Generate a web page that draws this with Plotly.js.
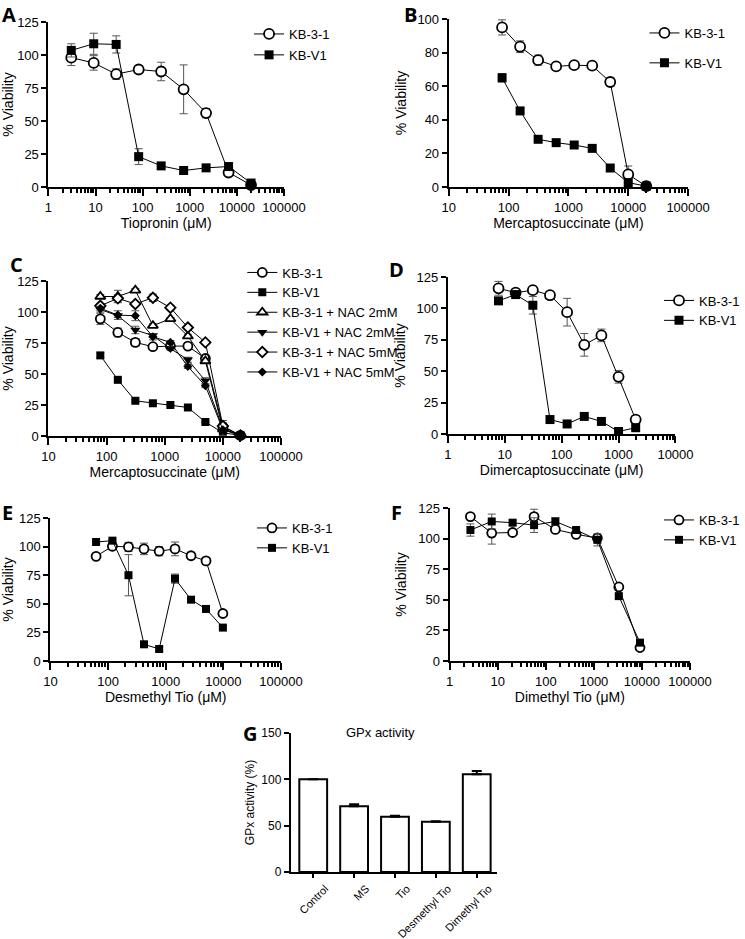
<!DOCTYPE html>
<html><head><meta charset="utf-8">
<script src="https://cdn.plot.ly/plotly-3.0.1.min.js"></script>
<style>html,body{margin:0;padding:0;background:#fff}</style>
</head><body><div id="chart" style="width:745px;height:939px"></div>
<script>
// ---------- DATA ----------
// Panel A: Tiopronin
const concTio = [3.05, 9.14, 27.4, 82.3, 247, 741, 2222, 6667, 20000];
const A_kb31 = [98, 94, 85.5, 89, 87.5, 74, 56, 11, 1.5];
const A_kb31_err = [6, 5.5, 4, 1.5, 7, 18.5, 3.5, 1, 0];
const A_kbv1 = [103.5, 108.5, 108, 23, 16, 12.5, 14.5, 15.5, 3];
const A_kbv1_err = [5, 8, 6.5, 6, 1.5, 1, 1, 1, 0.5];
// Panel B: Mercaptosuccinate
const concMS = [78, 156, 312, 625, 1250, 2500, 5000, 10000, 20000];
const B_kb31 = [95, 83.5, 75.5, 71.8, 72.5, 72.2, 62.5, 7.5, 0.5];
const B_kb31_err = [4.5, 3.5, 3, 1, 1.5, 1.5, 2.5, 5, 0];
const B_kbv1 = [65, 45.3, 28.4, 26.4, 25, 23, 11.3, 2.6, 0.5];
const B_kbv1_err = [2.5, 1, 1, 1, 0.5, 0.5, 0.5, 0.5, 0];
// Panel C: Mercaptosuccinate + NAC
const C_kb31 = [94.5, 83.5, 75.5, 72, 72.5, 72.5, 62.5, 7.5, 0.5];
const C_kb31_err = [4.5, 3.5, 3, 1, 1.5, 1.5, 2.5, 5, 0];
const C_kbv1 = [65, 45.3, 28.4, 26.4, 25, 23, 11.3, 2.6, 0.5];
const C_kbv1_err = [2, 1, 1, 1, 0.5, 0.5, 0.5, 0.5, 0];
const C_nac2_31 = [112.5, 112.5, 117.5, 89, 94.5, 80.5, 60.5, 5.5, 0.5];
const C_nac2_31_err = [1.5, 5, 1.5, 1.5, 1, 1.5, 1.5, 5, 0];
const C_nac2_v1 = [102, 97, 85.5, 81, 70.5, 61.5, 44.5, 6, 0.5];
const C_nac2_v1_err = [2, 1.5, 3, 1.5, 1, 2, 2.5, 1, 0];
const C_nac5_31 = [105, 111, 106.5, 111.5, 103.5, 87.5, 75.5, 8, 0.5];
const C_nac5_31_err = [1.5, 3, 1.5, 3, 2, 1.5, 1.5, 1, 0];
const C_nac5_v1 = [103, 97.5, 97, 80, 75.5, 56, 40.5, 5, 0.5];
const C_nac5_v1_err = [1.5, 3.5, 4, 2.5, 1.5, 1.5, 1.5, 1, 0];
// Panel D: Dimercaptosuccinate
const concDMS = [7.8, 15.6, 31.25, 62.5, 125, 250, 500, 1000, 2000];
const D_kb31 = [116, 112.5, 114.5, 110.5, 97, 71, 78.5, 45.5, 11.5];
const D_kb31_err = [5.5, 1, 1, 3, 11, 9, 5, 5, 3];
const D_kbv1 = [106, 111, 102.5, 11.5, 8, 14, 10, 2, 5];
const D_kbv1_err = [2, 1.5, 7, 1, 1, 1, 1, 0.5, 1];
// Panel E: Desmethyl Tio
const concDesm = [62, 119, 226, 420, 770, 1450, 2750, 5000, 9800];
const E_kb31 = [91.5, 100.3, 99.7, 98, 96, 98, 92, 87.5, 41.5];
const E_kb31_err = [0, 3, 4, 5, 4, 6, 3, 3, 0];
const E_kbv1 = [104, 105.2, 75, 14.6, 10.5, 72, 53.6, 45.5, 29.2];
const E_kbv1_err = [1, 1, 18, 1, 2, 4, 1, 1, 1];
// Panel F: Dimethyl Tio
const concDim = [2.7, 7.5, 20.4, 57, 158, 427, 1180, 3300, 9100];
const F_kb31 = [118, 104.5, 105, 118, 107.5, 103.5, 100.5, 60.5, 11];
const F_kb31_err = [2, 9, 2, 6, 2, 2, 2, 2, 1];
const F_kbv1 = [107, 114, 113, 111, 114, 107, 99, 53, 15];
const F_kbv1_err = [5, 6, 2, 6, 3, 2, 5, 2, 1];
// Panel G: GPx activity
const gCats = ["Control", "MS", "Tio", "Desmethyl Tio", "Dimethyl Tio"];
const gVals = [100, 71, 59.6, 54.3, 105.5];
const gErr = [0, 2.2, 1, 0.5, 3.5];
const gErrMinus = [0, 0, 0, 0, 0];

// ---------- LAYOUT HELPERS ----------
const W = 745, H = 939;
const FONT = "Liberation Sans, Arial, sans-serif";
const TICK = '#000';
const fx = v => v / W;
const fy = v => 1 - v / H;

function minorVals(lo, hi) {
  const v = [];
  for (let e = lo; e < hi; e++) for (let m = 2; m <= 9; m++) v.push(m * Math.pow(10, e));
  return v;
}

function logAxis(l, r, anchor, lo, hi, title) {
  return {
    type: 'log', domain: [fx(l), fx(r)], anchor: anchor, range: [lo, hi],
    tickmode: 'linear', tick0: 0, dtick: 1, tickformat: 'd',
    ticks: 'outside', ticklen: 7, tickwidth: 2, tickcolor: TICK,
    minor: {tickmode: 'array', tickvals: minorVals(lo, hi), ticks: 'outside', ticklen: 4,
            tickwidth: 2, tickcolor: TICK, showgrid: false},
    showline: true, linewidth: 2, linecolor: '#000', showgrid: false, zeroline: false,
    tickfont: {family: FONT, size: 13, color: '#000'},
    title: {text: title, font: {family: FONT, size: 14, color: '#000'}, standoff: 5}
  };
}
function linAxis(top, bot, anchor, hi, dt, title, tsize, standoff) {
  return {
    domain: [fy(bot), fy(top)], anchor: anchor, range: [0, hi], dtick: dt, tick0: 0,
    ticks: 'outside', ticklen: 5, tickwidth: 2, tickcolor: TICK,
    showline: true, linewidth: 2, linecolor: '#000', showgrid: false, zeroline: false,
    tickfont: {family: FONT, size: tsize ? 12 : 13, color: '#000'},
    title: {text: title, font: {family: FONT, size: tsize || 14, color: '#000'},
            standoff: standoff === undefined ? 8 : standoff}
  };
}

const OPEN = (sym, size) => ({symbol: sym, size: size, color: '#fff', line: {color: '#000', width: 1.8}});
const FILL = (sym, size) => ({symbol: sym, size: size, color: '#000', line: {color: '#000', width: 0}});

function series(x, y, err, name, marker, xa, ya, lg) {
  return {
    type: 'scatter', mode: 'lines+markers', x: x, y: y, name: name,
    xaxis: xa, yaxis: ya, legend: lg, legendgroup: lg + name, cliponaxis: false,
    line: {color: '#000', width: 1},
    marker: marker,
    error_y: {type: 'data', array: err, visible: true, color: '#555', thickness: 1, width: 4}
  };
}

const traces = [
  series(concTio, A_kb31, A_kb31_err, 'KB-3-1', OPEN('circle', 10), 'x', 'y', 'legend'),
  series(concTio, A_kbv1, A_kbv1_err, 'KB-V1', FILL('square', 9), 'x', 'y', 'legend'),
  series(concMS, B_kb31, B_kb31_err, 'KB-3-1', OPEN('circle', 10), 'x2', 'y2', 'legend2'),
  series(concMS, B_kbv1, B_kbv1_err, 'KB-V1', FILL('square', 9), 'x2', 'y2', 'legend2'),
  series(concMS, C_kb31, C_kb31_err, 'KB-3-1', OPEN('circle', 9), 'x3', 'y3', 'legend3'),
  series(concMS, C_kbv1, C_kbv1_err, 'KB-V1', FILL('square', 8), 'x3', 'y3', 'legend3'),
  series(concMS, C_nac2_31, C_nac2_31_err, 'KB-3-1 + NAC 2mM', OPEN('triangle-up', 9), 'x3', 'y3', 'legend3'),
  series(concMS, C_nac2_v1, C_nac2_v1_err, 'KB-V1 + NAC 2mM', FILL('triangle-down', 9), 'x3', 'y3', 'legend3'),
  series(concMS, C_nac5_31, C_nac5_31_err, 'KB-3-1 + NAC 5mM', OPEN('diamond', 8), 'x3', 'y3', 'legend3'),
  series(concMS, C_nac5_v1, C_nac5_v1_err, 'KB-V1 + NAC 5mM', FILL('diamond', 7), 'x3', 'y3', 'legend3'),
  series(concDMS, D_kb31, D_kb31_err, 'KB-3-1', OPEN('circle', 10), 'x4', 'y4', 'legend4'),
  series(concDMS, D_kbv1, D_kbv1_err, 'KB-V1', FILL('square', 9), 'x4', 'y4', 'legend4'),
  series(concDesm, E_kb31, E_kb31_err, 'KB-3-1', OPEN('circle', 9), 'x5', 'y5', 'legend5'),
  series(concDesm, E_kbv1, E_kbv1_err, 'KB-V1', FILL('square', 8), 'x5', 'y5', 'legend5'),
  series(concDim, F_kb31, F_kb31_err, 'KB-3-1', OPEN('circle', 9), 'x6', 'y6', 'legend6'),
  series(concDim, F_kbv1, F_kbv1_err, 'KB-V1', FILL('square', 8), 'x6', 'y6', 'legend6'),
  {
    type: 'bar', x: gCats, y: gVals, xaxis: 'x7', yaxis: 'y7', showlegend: false,
    marker: {color: '#fff', line: {color: '#000', width: 2}},
    error_y: {type: 'data', array: gErr, arrayminus: gErrMinus, symmetric: false, color: '#000', thickness: 2, width: 5}
  }
];

function legendAt(x, y, fs, gap) {
  return {x: fx(x), y: fy(y), xanchor: 'left', yanchor: 'top', bgcolor: 'rgba(0,0,0,0)',
    font: {family: FONT, size: fs, color: '#000'}, itemwidth: 30,
    traceorder: 'grouped', tracegroupgap: gap};
}

function letter(t, x, y) {
  return {text: '<b>' + t + '</b>', x: fx(x), y: fy(y), xref: 'paper', yref: 'paper',
    xanchor: 'center', yanchor: 'middle', showarrow: false,
    font: {family: 'Open Sans, DejaVu Sans, sans-serif', size: 20, color: '#000'}};
}

const layout = {
  width: W, height: H, margin: {l: 0, r: 0, t: 0, b: 0},
  paper_bgcolor: '#fff', plot_bgcolor: 'rgba(0,0,0,0)',
  font: {family: FONT, color: '#000'},
  showlegend: true,
  xaxis: logAxis(50, 293, 'y', 0, 5, 'Tiopronin (μM)'),
  yaxis: linAxis(22, 187, 'x', 125, 25, '% Viability'),
  xaxis2: logAxis(463, 710, 'y2', 1, 5, 'Mercaptosuccinate (μM)'),
  yaxis2: linAxis(19, 187, 'x2', 100, 20, '% Viability'),
  xaxis3: logAxis(50, 290, 'y3', 1, 5, 'Mercaptosuccinate (μM)'),
  yaxis3: linAxis(281, 436, 'x3', 125, 25, '% Viability'),
  xaxis4: logAxis(462, 697, 'y4', 0, 4, 'Dimercaptosuccinate (μM)'),
  yaxis4: linAxis(277, 434, 'x4', 125, 25, '% Viability'),
  xaxis5: logAxis(52, 290, 'y5', 1, 5, 'Desmethyl Tio (μM)'),
  yaxis5: linAxis(518, 661, 'x5', 125, 25, '% Viability'),
  xaxis6: logAxis(464, 712, 'y6', 0, 5, 'Dimethyl Tio (μM)'),
  yaxis6: linAxis(508, 661, 'x6', 125, 25, '% Viability'),
  xaxis7: {domain: [fx(300), fx(513)], anchor: 'y7', range: [-0.55, 4.5],
    ticks: 'outside', ticklen: 4, tickwidth: 2, tickcolor: TICK, tickangle: -45,
    ticklabelshift: 12,
    showline: true, linewidth: 2, linecolor: '#000', showgrid: false, zeroline: false,
    tickfont: {family: FONT, size: 11, color: '#000'}},
  yaxis7: linAxis(733, 872, 'x7', 150, 50, 'GPx activity (%)', 12, 4),
  bargap: 0.32,
  legend: legendAt(257, 19, 13, 1),
  legend2: legendAt(665, 18, 13, 10),
  legend3: legendAt(250, 257.5, 13, 0),
  legend4: legendAt(680, 285.5, 13, 0),
  legend5: legendAt(260, 513, 13, 0),
  legend6: legendAt(680, 505, 13, 0),
  annotations: [
    letter('A', 9, 14), letter('B', 424, 14), letter('C', 17, 264), letter('D', 409, 270),
    letter('E', 8, 512), letter('F', 409, 512), letter('G', 258, 733),
    {text: 'GPx activity', x: fx(393), y: fy(732), xref: 'paper', yref: 'paper', showarrow: false,
     xanchor: 'center', yanchor: 'middle', font: {family: FONT, size: 13, color: '#000'}}
  ]
};

Plotly.newPlot('chart', traces, layout, {displayModeBar: false, staticPlot: true});
</script></body></html>
